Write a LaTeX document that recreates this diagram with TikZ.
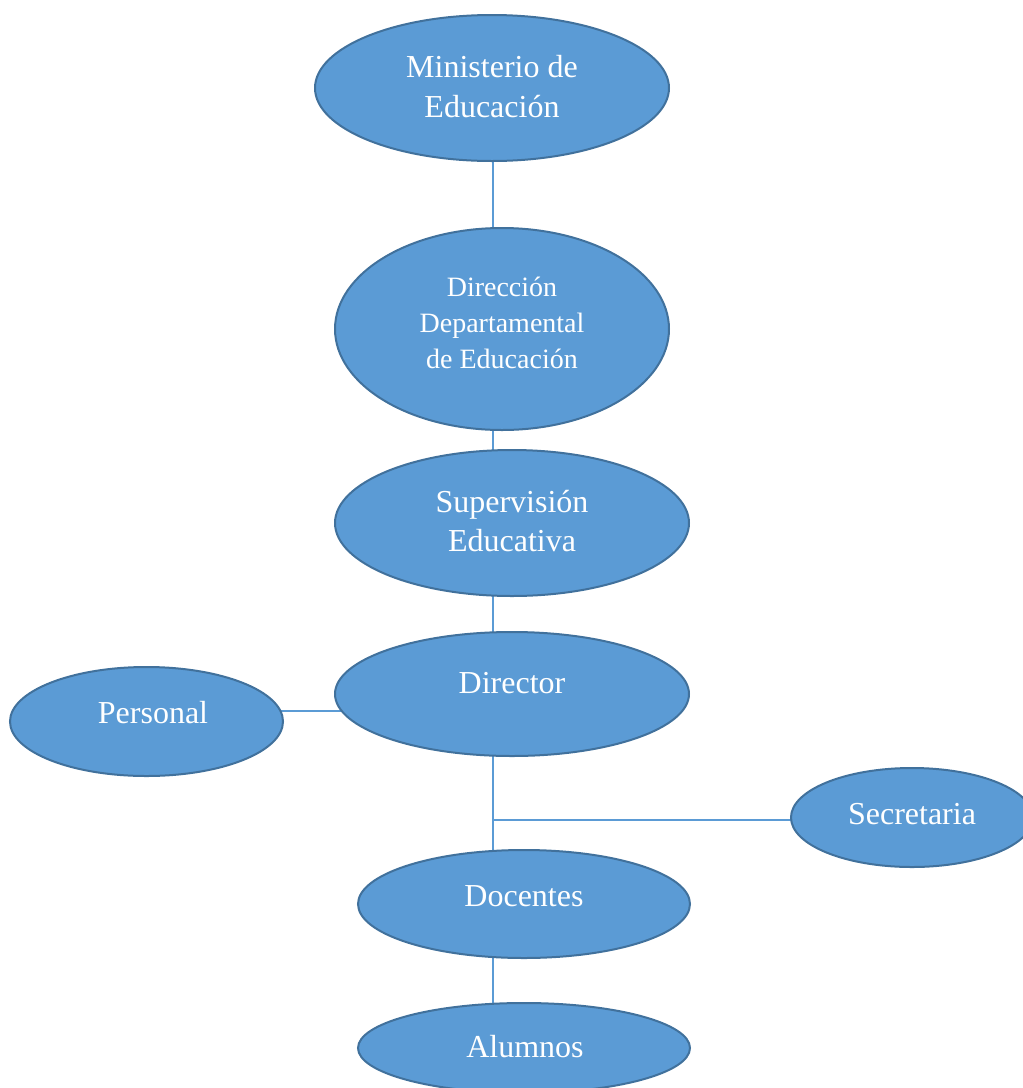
\documentclass[tikz,border=0pt]{standalone}
\usepackage{fontspec}
\setmainfont{Liberation Serif}
\usetikzlibrary{shapes.geometric,backgrounds}
\definecolor{boxfill}{HTML}{5B9BD5}
\definecolor{boxline}{HTML}{41719C}
\definecolor{linkcol}{HTML}{5B9BD5}
\begin{document}
\begin{tikzpicture}[x=1pt,y=-1pt,
  oval/.style={ellipse, draw=boxline, line width=2pt, fill=boxfill, inner sep=0pt},
  big/.style={anchor=base, text=white, inner sep=0pt, font=\fontsize{32}{39}\selectfont},
  small/.style={anchor=base, text=white, inner sep=0pt, font=\fontsize{28}{36}\selectfont},
  link/.style={draw=linkcol, line width=1.1pt}]
\useasboundingbox (0,0) rectangle (1023,1088);
% ellipses
\node[oval, minimum width=354pt, minimum height=146pt] (min) at (492,88) {};
\node[oval, minimum width=334pt, minimum height=202pt] (dir) at (502,329) {};
\node[oval, minimum width=354pt, minimum height=146pt] (sup) at (512,523) {};
\node[oval, minimum width=354pt, minimum height=124pt] (dtr) at (512,694) {};
\node[oval, minimum width=273pt, minimum height=109pt] (per) at (146.5,721.5) {};
\node[oval, minimum width=242pt, minimum height=99pt] (sec) at (912,817.5) {};
\node[oval, minimum width=332pt, minimum height=108pt] (doc) at (524,904) {};
\node[oval, minimum width=332pt, minimum height=90pt] (alu) at (524,1048) {};
% texts
\node[big] (t1a) at (492,77) {Ministerio de};
\node[big] (t1b) at (492,117) {Educación};
\node[small] (t2a) at (502,296) {Dirección};
\node[small] (t2b) at (502,332) {Departamental};
\node[small] (t2c) at (502,368) {de Educación};
\node[big] (t3a) at (512,512) {Supervisión};
\node[big] (t3b) at (512,551) {Educativa};
\node[big] (t4) at (512,693) {Director};
\node[big] (t5) at (153,723) {Personal};
\node[big] (t6) at (912,824) {Secretaria};
\node[big] (t7) at (524,906) {Docentes};
\node[big] (t8) at (525,1057) {Alumnos};
% connectors
\coordinate (spine) at (493,0);
\coordinate (pl) at (0,711);
\coordinate (br) at (493,820);
\begin{scope}[on background layer]
\draw[link] (min.center -| spine) -- (dir.center -| spine);
\draw[link] (dir.center -| spine) -- (sup.center -| spine);
\draw[link] (sup.center -| spine) -- (dtr.center -| spine);
\draw[link] (dtr.center -| spine) -- (doc.center -| spine);
\draw[link] (doc.center -| spine) -- (alu.center -| spine);
\draw[link] (br) -- (br -| sec.center);
\draw[link] (pl -| per.center) -- (pl -| dtr.center);
\end{scope}
\end{tikzpicture}
\end{document}
